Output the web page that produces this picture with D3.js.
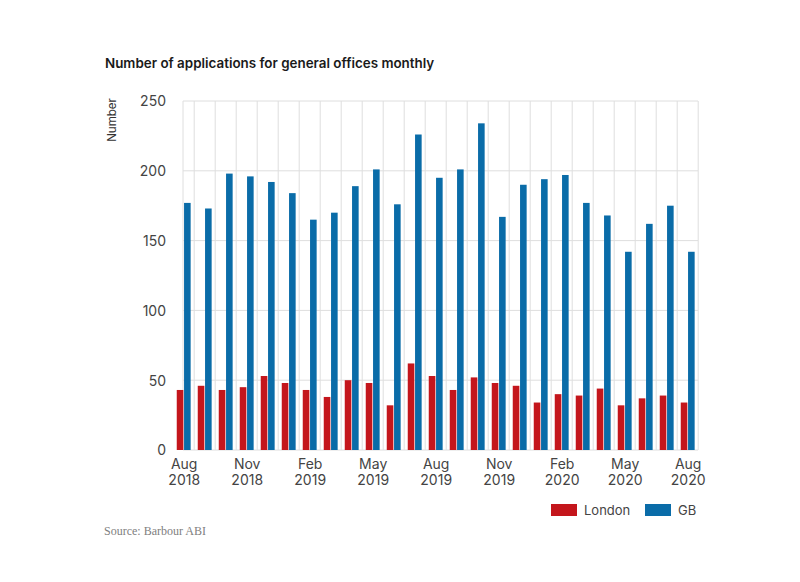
<!DOCTYPE html>
<html>
<head>
<meta charset="utf-8">
<script src="https://cdn.jsdelivr.net/npm/d3@7"></script>
<style>
  html, body { margin: 0; padding: 0; background: #fff; }
  svg { display: block; }
</style>
</head>
<body>
<svg id="chart" width="800" height="582"></svg>
<script>
const months = ["Aug 2018","Sep 2018","Oct 2018","Nov 2018","Dec 2018","Jan 2019","Feb 2019","Mar 2019","Apr 2019","May 2019","Jun 2019","Jul 2019","Aug 2019","Sep 2019","Oct 2019","Nov 2019","Dec 2019","Jan 2020","Feb 2020","Mar 2020","Apr 2020","May 2020","Jun 2020","Jul 2020","Aug 2020"];
const london = [43,46,43,45,53,48,43,38,50,48,32,62,53,43,52,48,46,34,40,39,44,32,37,39,34];
const gb = [177,173,198,196,192,184,165,170,189,201,176,226,195,201,234,167,190,194,197,177,168,142,162,175,142];
const seriesNames = ["London","GB"];
const seriesColors = ["#c4161c","#0a6ca8"];
const yTicks = [0,50,100,150,200,250];
const xTickIdx = [0,3,6,9,12,15,18,21,24];

(function () {
const svg = d3.select("#chart");
const pL = 183, pR = 698, pT = 101, pB = 450;

const x = d3.scaleLinear().domain([0, months.length - 1]).range([183.7, 687.7]);
const y = d3.scaleLinear().domain([0, 250]).range([pB, pT]);

const font = "Inter, 'Noto Sans', sans-serif";

// title
svg.append("text").attr("x", 105).attr("y", 68)
  .attr("font-family", font).attr("font-weight", 600).attr("font-size", 13.4)
  .attr("fill", "#1a1a1a").text("Number of applications for general offices monthly");

// grid
const grid = svg.append("g");
grid.selectAll("line.h").data(yTicks).join("line")
  .attr("x1", pL).attr("x2", pR)
  .attr("y1", d => y(d)).attr("y2", d => y(d))
  .attr("stroke", "#dedede").attr("stroke-width", 1);
const vlines = [pL].concat(months.map((m, i) => x(i + 0.5)));
grid.selectAll("line.v").data(vlines).join("line")
  .attr("x1", d => d).attr("x2", d => d)
  .attr("y1", pT).attr("y2", pB)
  .attr("stroke", "#dedede").attr("stroke-width", 1);

// y axis
const yAxis = d3.axisLeft(y).tickValues(yTicks).tickSize(0).tickPadding(0);
const yg = svg.append("g").attr("transform", `translate(166,0)`).call(yAxis);
yg.select(".domain").remove();
yg.selectAll("text").attr("font-family", font).attr("font-size", 14)
  .attr("fill", "#444").attr("dy", "0.35em");

// y label
svg.append("text").attr("transform", "translate(116,120) rotate(-90)")
  .attr("text-anchor", "middle").attr("font-family", font).attr("font-size", 11.5)
  .attr("fill", "#333").text("Number");

// bars
const bw = 6.6, gap = 0.35;
svg.append("g").selectAll("rect").data(london).join("rect")
  .attr("x", (d, i) => x(i) - gap - bw).attr("width", bw)
  .attr("y", d => y(d)).attr("height", d => y(0) - y(d))
  .attr("fill", seriesColors[0]);
svg.append("g").selectAll("rect").data(gb).join("rect")
  .attr("x", (d, i) => x(i) + gap).attr("width", bw)
  .attr("y", d => y(d)).attr("height", d => y(0) - y(d))
  .attr("fill", seriesColors[1]);

// x axis labels
const xAxis = d3.axisBottom(x).tickValues(xTickIdx).tickSize(0).tickFormat(() => "");
const xg = svg.append("g").attr("transform", `translate(0,${pB})`).call(xAxis);
xg.select(".domain").remove();
xg.selectAll(".tick").each(function(d) {
  const parts = months[d].split(" ");
  const t = d3.select(this).append("text").attr("text-anchor", "middle")
    .attr("font-family", font).attr("font-size", 14).attr("fill", "#444");
  t.append("tspan").attr("x", 0).attr("y", 19).text(parts[0]);
  t.append("tspan").attr("x", 0).attr("y", 35).text(parts[1]);
});

// legend
const legX = [551, 645];
seriesNames.forEach((n, i) => {
  svg.append("rect").attr("x", legX[i]).attr("y", 504).attr("width", 26).attr("height", 12)
    .attr("fill", seriesColors[i]);
  svg.append("text").attr("x", legX[i] + 33).attr("y", 515)
    .attr("font-family", font).attr("font-size", 13).attr("fill", "#444").text(n);
});

// source
svg.append("text").attr("x", 104).attr("y", 535)
  .attr("font-family", "'Liberation Serif', 'DejaVu Serif', serif").attr("font-size", 12)
  .attr("fill", "#808080").text("Source: Barbour ABI");
})();
</script>
</body>
</html>
